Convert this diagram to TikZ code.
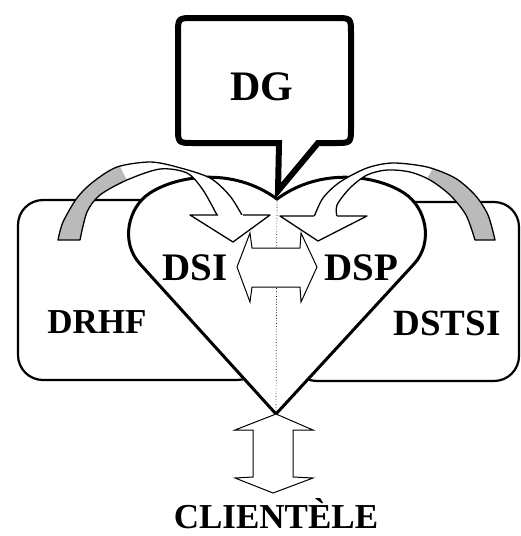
\documentclass[tikz,border=0pt]{standalone}
\usepackage{fontspec}
\setmainfont{Liberation Serif}
\tikzset{
  boxline/.style={line width=2.2pt, draw=black, fill=white, rounded corners=25pt},
  heartline/.style={line width=3pt, draw=black, fill=white, line join=miter},
  dgline/.style={line width=6pt, draw=black, fill=white, line join=miter},
  ribline/.style={line width=1.3pt, draw=black, line join=round},
  hollow/.style={line width=1pt, draw=black, fill=white, line join=miter},
  ribgray/.style={fill=black!27},
  lbl/.style={anchor=base, inner sep=0pt, font=\bfseries},
}
\newcommand\leftrib{plot[smooth] coordinates {(58,240) (63,222) (77,198) (93,182) (117,167) (150,162) (177,167) (210,178) (230,196) (243,217)} -- plot[smooth] coordinates {(218,217) (203,190) (187,173) (160,169) (127,180) (100,195) (87,212) (80,240)} -- cycle}
\newcommand\rightrib{plot[smooth] coordinates {(495,240) (488,215) (475,195) (455,178) (427,167) (393,163) (367,168) (340,182) (323,198) (314,217)} -- plot[smooth] coordinates {(337,217) (337,205) (350,188) (367,175) (387,170) (410,172) (430,180) (450,195) (466,215) (475,240)} -- cycle}
\begin{document}
\begin{tikzpicture}[x=1pt,y=-1pt]
\useasboundingbox (0,0) rectangle (521,536);
% key points
\coordinate (dip) at (277,199);
\coordinate (bot) at (276,414);
% side boxes
\draw[boxline] (18,200) rectangle (262,380);
\draw[boxline] (292,202) rectangle (519,381);
% heart
\draw[heartline] (bot) -- (140,264) .. controls (120,242) and (128,207) .. (150,193)
  .. controls (176,176) and (232,166) .. (dip)
  .. controls (322,166) and (378,176) .. (404,193)
  .. controls (426,207) and (434,242) .. (414,264) -- cycle;
\draw[dotted, line width=0.7pt] (dip) -- (bot);
% left ribbon arrow
\fill[white] \leftrib;
\begin{scope}
  \clip \leftrib;
  \fill[ribgray] (0,140) -- (106,140) -- (140,205) -- (120,260) -- (0,260) -- cycle;
\end{scope}
\draw[ribline] \leftrib;
\fill[white] (190,215) -- (233,242) -- (270,215) -- cycle;
\draw[ribline] (218,215) -- (190,215) -- (233,242) -- (270,215) -- (243,215);
% right ribbon arrow
\fill[white] \rightrib;
\begin{scope}
  \clip \rightrib;
  \fill[ribgray] (448,140) -- (540,140) -- (540,260) -- (440,260) -- (413,205) -- cycle;
\end{scope}
\draw[ribline] \rightrib;
\fill[white] (280,216) -- (318,241) -- (367,216) -- cycle;
\draw[ribline] (314,216) -- (280,216) -- (318,241) -- (367,216) -- (337,216);
% horizontal double arrow
\draw[hollow] (237,267) -- (250,233) -- (252,248) -- (300,248) -- (301,233) -- (317,267)
  -- (301,302) -- (300,287) -- (252,287) -- (250,302) -- cycle;
% vertical double arrow
\draw[hollow] (bot) -- (313,430) -- (293,430) -- (293,477) -- (313,478) -- (273,493)
  -- (235,478) -- (253,477) -- (253,430) -- (235,430) -- cycle;
% DG callout
\draw[dgline] (194,143) .. controls (178,143) .. (178,127) -- (178,34)
  .. controls (178,18) .. (194,18) -- (335,18) .. controls (351,18) .. (351,34)
  -- (351,127) .. controls (351,143) .. (335,143) -- (318,143) -- (278,191) -- (279,143) -- cycle;
% labels
\node[lbl, font=\bfseries\fontsize{42}{42}\selectfont] (dg) at (262,100) {DG};
\node[lbl, font=\bfseries\fontsize{39}{39}\selectfont] (dsi) at (195,280) {DSI};
\node[lbl, font=\bfseries\fontsize{39}{39}\selectfont] (dsp) at (361,280) {DSP};
\node[lbl, font=\bfseries\fontsize{35}{35}\selectfont] (drhf) at (97,333) {DRHF};
\node[lbl, font=\bfseries\fontsize{37}{37}\selectfont] (dstsi) at (447,335) {DSTSI};
\node[lbl, font=\bfseries\fontsize{35}{35}\selectfont] (cli) at (276,528) {CLIENTÈLE};
\end{tikzpicture}
\end{document}
